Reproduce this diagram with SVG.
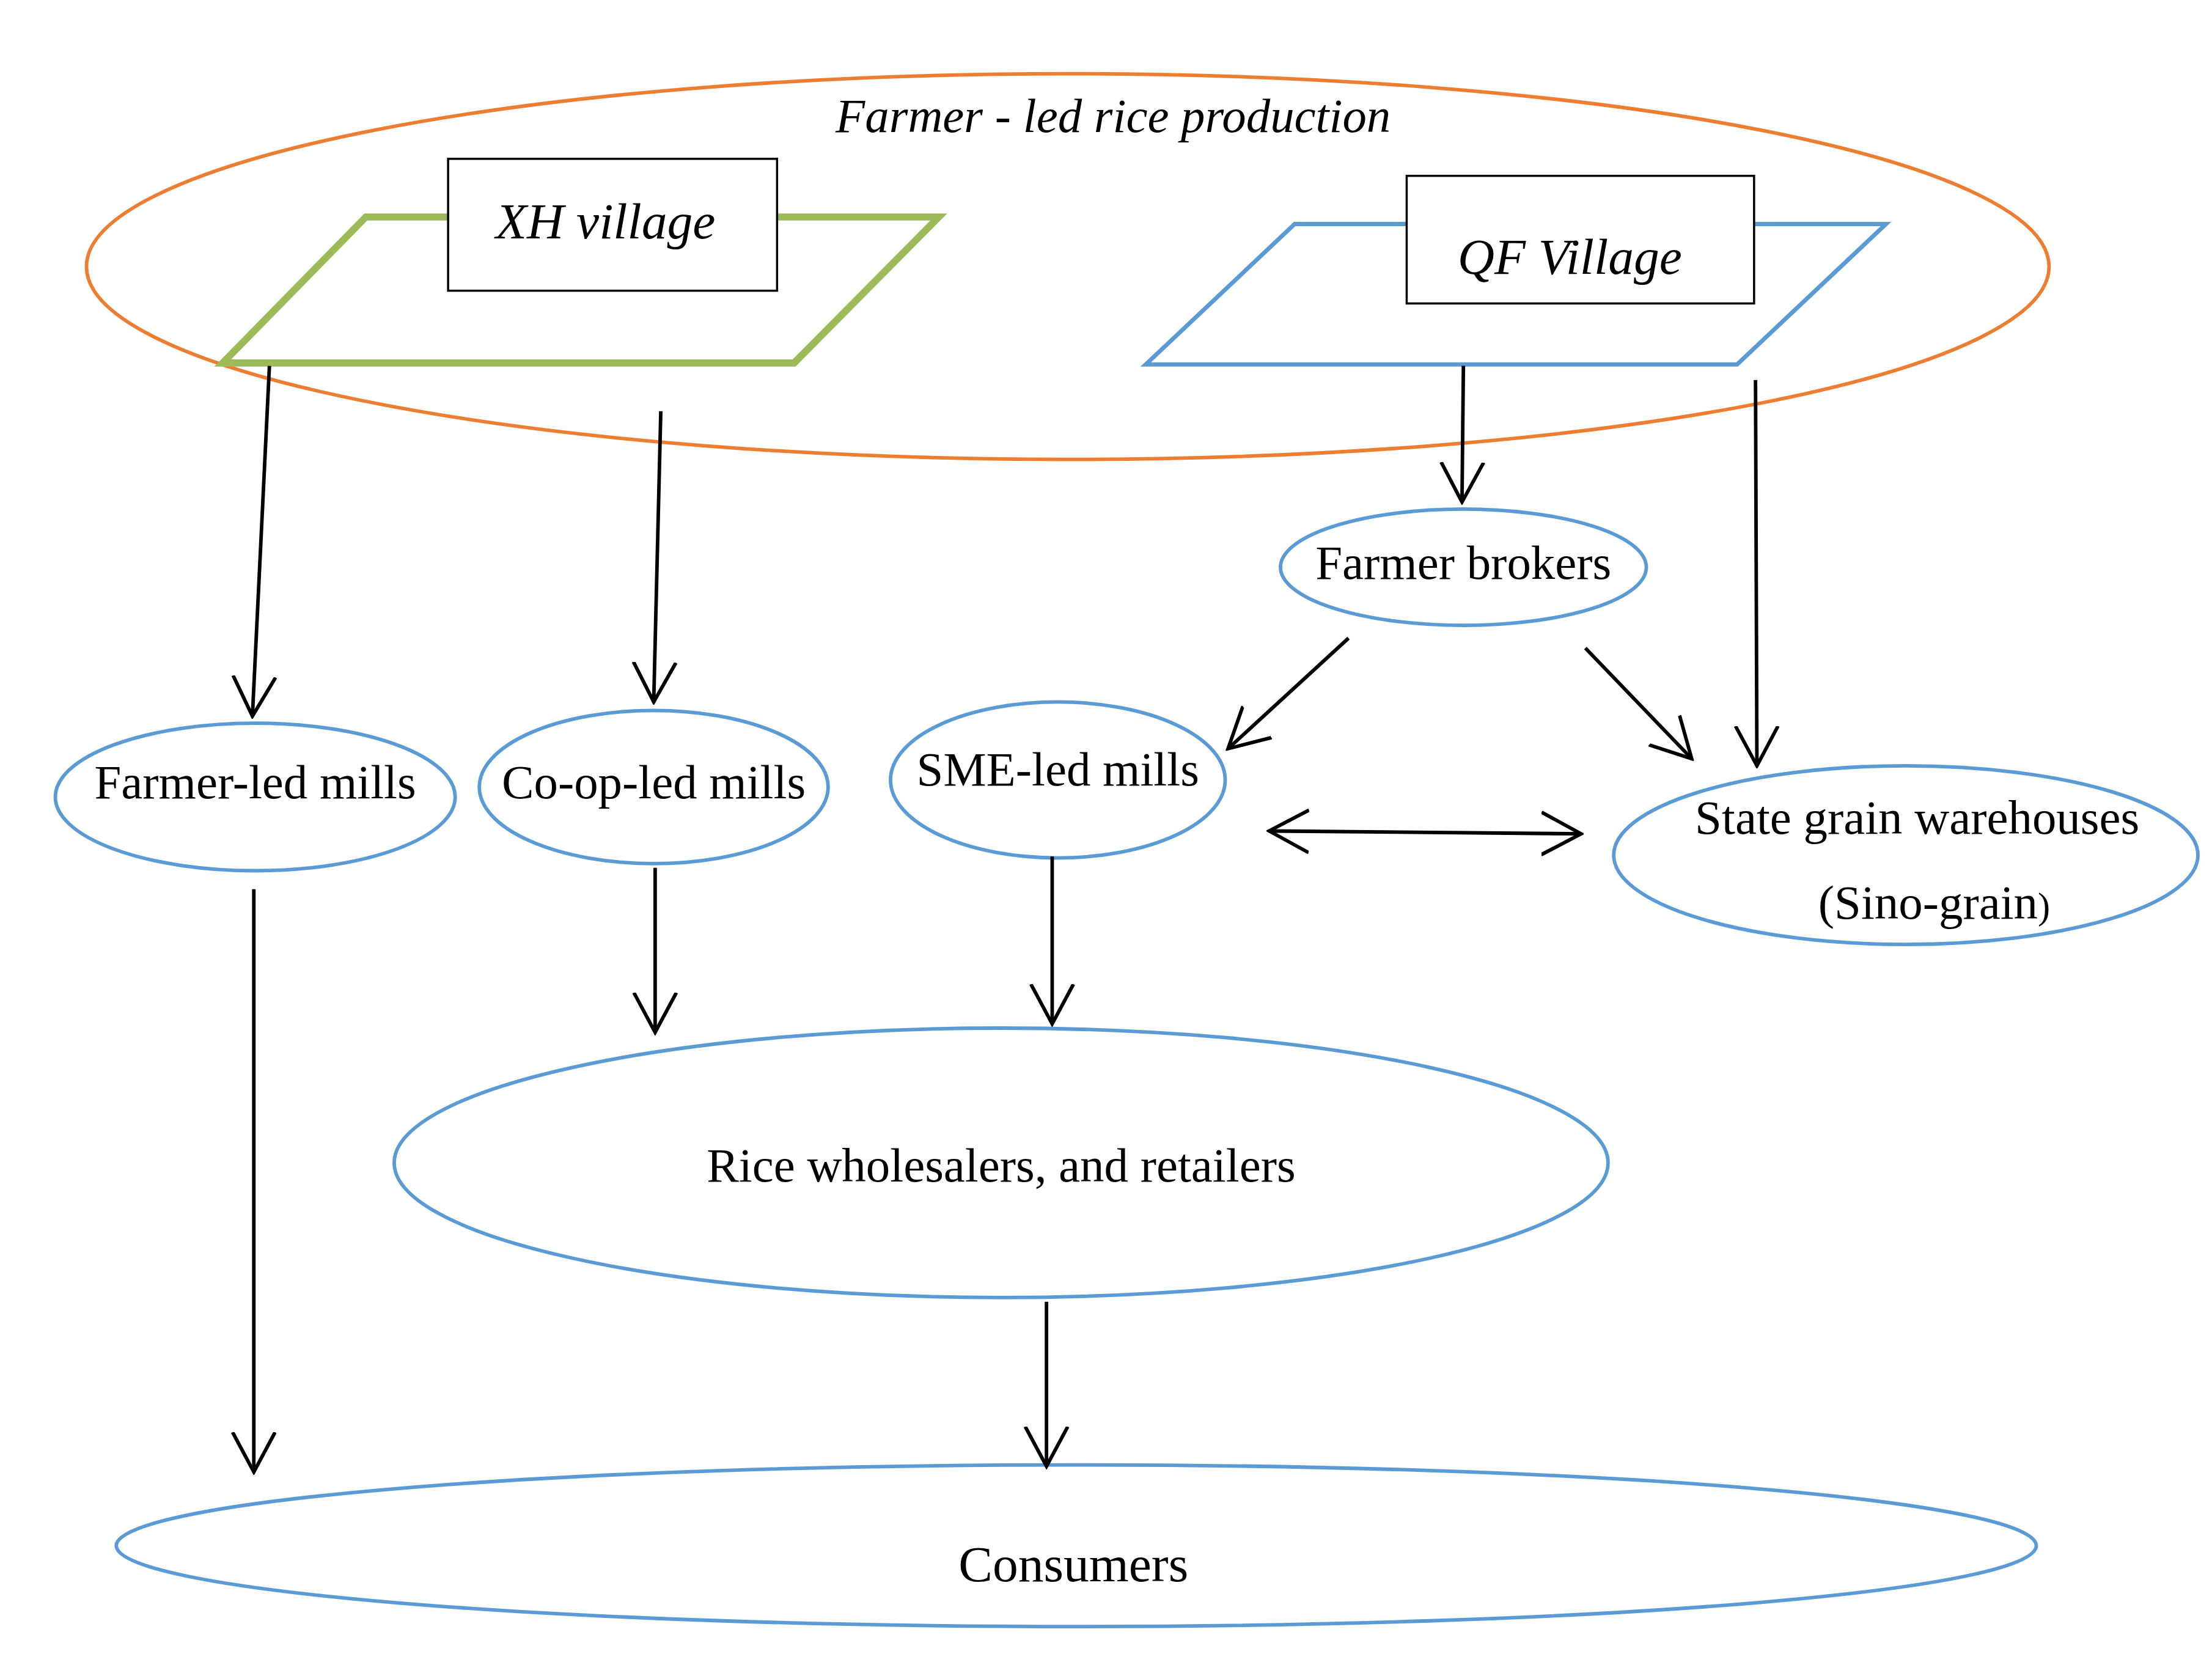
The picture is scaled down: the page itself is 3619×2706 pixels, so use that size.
<svg xmlns="http://www.w3.org/2000/svg" width="3619" height="2706" viewBox="0 0 3619 2706">
<style>
.t{font-family:"Liberation Serif","Times New Roman",serif;fill:#000;text-anchor:middle}
.i{font-style:italic}
.b{fill:#fff;stroke:#5b9bd5;stroke-width:2.5}
.c{stroke:#000;stroke-width:2.5;fill:none;marker-end:url(#a)}
</style>
<defs>
<marker id="a" markerUnits="userSpaceOnUse" viewBox="0 0 30 32" refX="28" refY="16" markerWidth="30" markerHeight="32" orient="auto-start-reverse">
<path d="M0,1 L28,16 L0,31" fill="none" stroke="#000" stroke-width="2.5"/>
</marker>
</defs>
<rect width="3619" height="2706" fill="#fff"/>
<g transform="scale(2.32)">
<g id="production">
<ellipse cx="753" cy="188" rx="692" ry="136" fill="none" stroke="#ed7d31" stroke-width="2.5"/>
<text class="t i" x="785" y="93" font-size="34">Farmer - led rice production</text>
</g>
<g id="xh">
<polygon points="258,153 662,153 560,256 157,256" fill="none" stroke="#9bbb59" stroke-width="5"/>
<rect x="316" y="112" width="232" height="93" fill="#fff" stroke="#000" stroke-width="1.5"/>
<text class="t i" x="427" y="168" font-size="36">XH village</text>
</g>
<g id="qf">
<polygon points="913,158 1330,158 1225,257 808,257" fill="none" stroke="#5b9bd5" stroke-width="3"/>
<rect x="992" y="124" width="245" height="90" fill="#fff" stroke="#000" stroke-width="1.5"/>
<text class="t i" x="1107" y="193" font-size="36">QF Village</text>
</g>
<g id="brokers"><ellipse class="b" cx="1032" cy="400" rx="129" ry="41"/><text class="t" x="1032" y="408" font-size="34">Farmer brokers</text></g>
<g id="farmermills"><ellipse class="b" cx="180" cy="562" rx="141" ry="52"/><text class="t" x="180" y="563" font-size="34">Farmer-led mills</text></g>
<g id="coopmills"><ellipse class="b" cx="461" cy="555" rx="123" ry="54"/><text class="t" x="461" y="563" font-size="34">Co-op-led mills</text></g>
<g id="smemills"><ellipse class="b" cx="746" cy="550" rx="118" ry="55"/><text class="t" x="746" y="554" font-size="34">SME-led mills</text></g>
<g id="state"><ellipse class="b" cx="1344" cy="603" rx="206" ry="63"/><text class="t" x="1352" y="588" font-size="34">State grain warehouses</text><text class="t" x="1364" y="648" font-size="34">(Sino-grain<tspan font-size="26">)</tspan></text></g>
<g id="wholesalers"><ellipse class="b" cx="706" cy="820" rx="428" ry="95"/><text class="t" x="706" y="833" font-size="34">Rice wholesalers, and retailers</text></g>
<g id="consumers"><ellipse class="b" cx="759" cy="1090" rx="677" ry="57"/><text class="t" x="757" y="1115" font-size="36">Consumers</text></g>
<g id="connectors">
<line class="c" x1="190" y1="258" x2="178" y2="505"/>
<line class="c" x1="466" y1="290" x2="461" y2="495"/>
<line class="c" x1="1032" y1="258" x2="1031" y2="354"/>
<line class="c" x1="1238" y1="268" x2="1239" y2="540"/>
<line class="c" x1="951" y1="450" x2="866" y2="528"/>
<line class="c" x1="1118" y1="457" x2="1193" y2="535"/>
<line class="c" x1="895" y1="586" x2="1115" y2="588" marker-start="url(#a)"/>
<line class="c" x1="179" y1="627" x2="179" y2="1038"/>
<line class="c" x1="462" y1="612" x2="462" y2="728"/>
<line class="c" x1="742" y1="604" x2="742" y2="722"/>
<line class="c" x1="738" y1="918" x2="738" y2="1034"/>
</g>
</g>
</svg>
